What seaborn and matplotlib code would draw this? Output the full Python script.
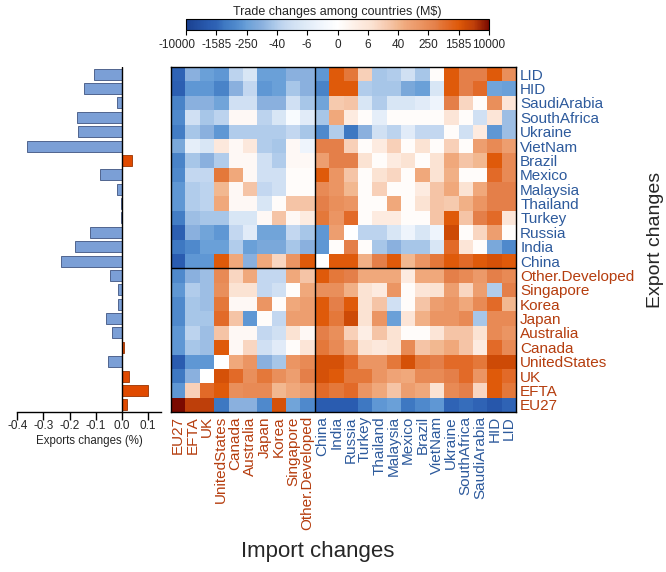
import numpy as np
import pandas as pd
import matplotlib
matplotlib.use("Agg")
import matplotlib.pyplot as plt
import matplotlib.transforms as mtransforms
import seaborn as sns
from matplotlib.colors import LinearSegmentedColormap

# ---------------- data ----------------
rows = ["LID", "HID", "SaudiArabia", "SouthAfrica", "Ukraine", "VietNam", "Brazil",
        "Mexico", "Malaysia", "Thailand", "Turkey", "Russia", "India", "China",
        "Other.Developed", "Singapore", "Korea", "Japan", "Australia", "Canada",
        "UnitedStates", "UK", "EFTA", "EU27"]
cols = rows[::-1]
developed = ["Other.Developed", "Singapore", "Korea", "Japan", "Australia", "Canada",
             "UnitedStates", "UK", "EFTA", "EU27"]

# export changes (%) per exporting country (rows)
export_change = [-0.106, -0.145, -0.018, -0.171, -0.169, -0.363, 0.040, -0.083, -0.017,
                 -0.002, -0.001, -0.122, -0.178, -0.231, -0.046, -0.015, -0.013, -0.059,
                 -0.036, 0.007, -0.054, 0.029, 0.099, 0.021]

# trade change, signed log10 of M$ (rows = exporter, cols = importer)
trade_log = [
    [-3.2, -2.0, -2.4, -2.5, -1.5, -1.0, -2.4, -2.4, -2.0, -2.0, -2.5, 3.2, 2.7, 1.2, -1.7, -1.6, -1.2, -1.7, 0.1, 3.2, 2.6, 2.6, 3.2, 2.3],
    [-3.3, -2.5, -2.5, -2.8, -2.0, -1.4, -2.5, -2.4, -1.7, -2.0, -2.8, 3.2, 3.2, -1.6, -1.7, -1.7, -2.2, -2.4, -1.0, 3.2, 2.6, 2.9, -2.3, -2.4],
    [-2.8, -2.0, -2.0, -2.3, -1.2, -1.2, -2.0, -2.0, -1.2, -1.7, -2.3, 1.3, 1.4, -1.0, -1.6, -1.0, -1.0, -0.8, -0.5, 2.6, 1.1, 0.1, 2.3, 0.8],
    [-2.7, -1.2, -1.7, -1.5, 0.2, 0.2, -1.5, -1.0, -0.2, -0.8, -1.7, 1.8, 0.6, 0.1, -0.7, 0.1, 0.1, 0.1, 0.1, 0.8, 0.1, -1.2, 0.8, -1.8],
    [-2.9, -1.7, -2.0, -2.5, -1.6, -1.6, -1.6, -1.6, -1.4, -1.7, -2.7, -1.6, -3.0, -2.0, -1.2, -1.5, -0.8, -1.4, -1.4, 0.1, -1.2, 0.6, -2.5, -1.8],
    [-2.2, -0.7, -1.0, 0.7, 0.2, 0.7, -1.6, -1.7, 0.2, -0.5, 2.6, 2.6, 1.2, 0.1, 0.6, 1.2, 0.1, 0.9, 0.1, 1.2, 0.1, 2.0, 2.4, 2.0],
    [-2.8, -1.7, -2.0, -1.6, 0.2, 0.2, -1.2, -1.6, 0.2, 0.2, 2.0, 2.6, 2.6, 0.9, 0.1, 0.6, 0.9, 0.1, 0.9, 1.8, 1.4, 1.6, 3.2, 2.4],
    [-2.7, -1.4, -1.4, 2.7, 1.8, 0.2, -1.2, -1.2, 0.1, 0.1, 3.2, 2.2, 1.4, 0.1, 0.9, 1.1, 0.1, 1.8, 0.9, 1.7, 0.1, 0.1, 2.9, 2.4],
    [-2.5, -1.6, -1.5, 1.6, 0.2, 1.4, -1.4, -1.2, 0.1, 0.1, 2.4, 2.2, 1.6, 0.1, 1.2, 0.1, 0.1, 0.6, 1.4, 1.8, 0.9, 1.8, 2.6, 2.6],
    [-2.5, -1.6, -1.5, 1.8, 0.2, 0.2, -1.0, 0.1, 1.4, 1.4, 2.6, 2.3, 2.2, 0.1, 0.1, 1.8, 0.1, 0.9, 1.4, 1.3, 1.7, 2.2, 2.6, 2.6],
    [-2.9, -1.8, -1.7, -1.7, -1.0, -1.0, 0.2, 1.4, 0.2, 0.6, 2.7, 2.2, 2.9, 0.1, 0.6, 0.6, 0.1, 0.1, 1.4, 3.2, 1.4, 2.6, 2.9, 0.8],
    [-3.3, -2.0, -2.3, -2.5, -1.4, -0.8, -2.3, -2.3, -1.4, -1.7, -2.5, 2.0, 0.0, -1.5, -1.5, -1.0, -0.5, -1.0, -0.5, 3.4, 0.1, 1.1, 2.0, 0.1],
    [-3.0, -2.7, -2.4, -2.4, -1.6, -2.4, -2.2, -2.2, -1.7, -2.0, -2.5, 0.1, 2.6, 0.1, -1.7, -2.0, -1.7, -1.7, -1.0, 2.9, 0.8, 0.1, -2.2, -2.7],
    [-3.4, -2.5, -2.5, 3.2, 1.8, -2.0, 1.8, 1.1, 2.2, 3.2, 0.0, 3.2, 3.2, 1.7, 2.6, 3.2, 1.6, 2.2, 2.7, 3.2, 2.9, 3.2, 3.3, 3.2],
    [-2.7, -2.0, -1.8, 2.4, 1.1, 1.8, -1.4, -1.4, 1.8, 1.4, 3.2, 2.7, 2.6, 1.8, 1.8, 1.8, 0.6, 1.8, 1.8, 2.6, 2.4, 2.1, 2.6, 2.4],
    [-2.5, -1.6, -1.8, 2.3, 0.9, 0.9, -1.4, -1.2, 0.1, 1.8, 2.3, 2.3, 1.7, 0.9, 0.6, 2.2, 0.1, 0.8, 0.9, 2.0, 1.1, 2.0, -1.6, 2.6],
    [-2.7, -1.7, -1.8, 2.7, 0.2, 0.2, 2.2, 0.1, 1.8, 2.0, 3.2, 2.6, 3.2, 0.9, 1.4, -1.2, 0.1, 1.4, 2.0, 2.2, 1.8, 2.4, 2.9, 1.6],
    [-2.7, -1.7, -1.7, 2.9, 1.4, -2.5, 0.1, -1.4, 2.0, 2.0, 3.2, 2.7, 3.4, 0.9, 2.2, -2.4, 0.8, 1.7, 2.2, 2.2, 2.4, -1.7, 2.4, 2.4],
    [-2.5, -1.5, -1.8, 1.4, 0.2, 0.2, -1.4, -1.2, 0.9, 0.2, 2.6, 2.3, 1.2, 0.5, 1.4, 0.9, 0.1, 0.1, 0.8, 1.4, 1.4, 0.9, 2.4, 2.2],
    [-2.5, -1.7, -1.8, 3.2, 0.2, 1.1, -1.2, -0.8, 0.1, 0.8, 2.7, 2.4, 1.8, 0.9, 0.7, 0.9, 2.4, 1.4, 1.6, 1.8, 1.4, 0.6, 2.9, 2.4],
    [-3.4, -2.5, -2.5, 0.0, 1.8, 2.2, -2.0, -1.7, 2.2, 2.4, 3.3, 3.3, 2.9, 2.2, 2.2, 2.7, 3.3, 2.7, 2.6, 2.9, 2.9, 2.7, 3.4, 3.4],
    [-3.0, -2.0, 0.0, 3.3, 2.9, 2.3, 2.7, 2.3, 2.0, 2.6, 3.3, 3.2, 2.7, 2.7, 2.2, 1.9, 1.8, 2.4, 2.4, 2.6, 2.9, 2.2, 3.2, 2.9],
    [-2.5, 1.2, 2.9, 3.2, 2.3, 2.4, 2.4, 1.6, 1.8, 2.0, 2.9, 2.7, 2.9, 2.2, 1.8, 1.4, 2.0, 1.8, 0.9, 2.4, 2.6, 1.1, 3.2, 2.7],
    [4.0, 3.6, 3.6, -3.0, -2.0, -2.0, -2.7, 3.3, -2.3, -2.7, -3.4, -3.4, -3.4, -3.0, -2.5, -2.4, -3.0, -2.7, -2.5, -3.2, -3.1, -3.2, -3.5, -3.2],
]

cbar_ticks = [-4.0, -3.2, -2.4, -1.6, -0.8, 0.0, 0.8, 1.6, 2.4, 3.2, 4.0]
cbar_labels = ["-10000", "-1585", "-250", "-40", "-6", "0", "6", "40", "250", "1585", "10000"]

bar_ticks = [-0.4, -0.3, -0.2, -0.1, 0.0, 0.1]
bar_tick_labels = ["-0.4", "-0.3", "-0.2", "-0.1", "0.0", "0.1"]

# ---------------- style ----------------
sns.set_theme(style="white")
plt.rcParams["font.family"] = ["Liberation Sans", "DejaVu Sans"]

anchors = [
    (-4.0, "#1a4090"), (-3.4, "#2a5cb0"), (-3.2, "#2f63b5"), (-3.0, "#3e78c2"),
    (-2.7, "#4f89cc"), (-2.5, "#5f97d4"), (-2.4, "#6aa0d8"), (-2.2, "#7aa8da"),
    (-2.0, "#8ab0de"), (-1.7, "#a7c6e8"), (-1.5, "#bcd3ee"), (-1.2, "#d0e0f3"),
    (-1.0, "#d8e6f5"), (-0.5, "#eef4fc"), (0.0, "#ffffff"), (0.6, "#fdebe0"),
    (0.9, "#fbe3d3"), (1.2, "#f8d0b8"), (1.4, "#f5c4a6"), (1.6, "#f2b890"),
    (1.8, "#f0a87c"), (2.2, "#eb9563"), (2.4, "#e88a55"), (2.6, "#e4804a"),
    (2.7, "#e4783a"), (2.9, "#e26a28"), (3.2, "#df5a0a"), (3.4, "#cd4a06"),
    (3.6, "#c0400a"), (4.0, "#7a0a00"),
]
cmap = LinearSegmentedColormap.from_list(
    "trade", [((t + 4) / 8, c) for t, c in anchors], N=512)

BLUE_TXT = "#2d5a9c"
RED_TXT = "#b53d0e"

W, H = 666, 572
fig = plt.figure(figsize=(W / 100, H / 100), dpi=100)
ax_h = fig.add_axes([171 / W, 1 - 412 / H, 345 / W, 345 / H])
cax = fig.add_axes([186 / W, 1 - 30 / H, 303 / W, 11 / H])
ax_b = fig.add_axes([17.3 / W, 1 - 412 / H, 143.6 / W, 345 / H])

df = pd.DataFrame(trade_log, index=rows, columns=cols)
sns.heatmap(df, ax=ax_h, cmap=cmap, vmin=-4, vmax=4, cbar_ax=cax,
            cbar_kws={"orientation": "horizontal", "ticks": cbar_ticks},
            xticklabels=True, yticklabels=True)

# heatmap frame and group separators
for sp in ax_h.spines.values():
    sp.set_visible(True)
    sp.set_color("black")
    sp.set_linewidth(1.0)
ax_h.axvline(10, color="black", lw=1.0)
ax_h.axhline(14, color="black", lw=1.0)

ax_h.yaxis.tick_right()
ax_h.tick_params(axis="both", length=0, pad=3)
ax_h.set_yticklabels(rows, rotation=0, fontsize=11)
ax_h.set_xticklabels(cols, rotation=90, fontsize=11)
for lab in ax_h.get_yticklabels():
    lab.set_color(RED_TXT if lab.get_text() in developed else BLUE_TXT)
for lab in ax_h.get_xticklabels():
    lab.set_color(RED_TXT if lab.get_text() in developed else BLUE_TXT)
ax_h.set_xlabel("")
ax_h.set_ylabel("")

# colorbar
cbar = ax_h.collections[0].colorbar
cbar.outline.set_edgecolor("black")
cbar.outline.set_linewidth(0.8)
cax.xaxis.set_ticks_position("bottom")
cax.set_xticks(cbar_ticks)
cax.set_xticklabels(cbar_labels, fontsize=8.5)
cax.tick_params(axis="x", length=3.5, width=0.8, color="black", direction="out", pad=3,
                bottom=True)
first = cax.get_xticklabels()[0]
first.set_transform(first.get_transform() +
                    mtransforms.ScaledTranslation(-9 / 100, 0, fig.dpi_scale_trans))
fig.text(337 / W, 1 - 12.5 / H, "Trade changes among countries (M$)",
         ha="center", va="center", fontsize=9)

# bar chart of export changes
bar_colors = ["#e04a00" if v > 0 else "#7b9fd6" for v in export_change]
edge_colors = ["#9a3300" if v > 0 else "#3f5480" for v in export_change]
sns.barplot(x=export_change, y=rows, hue=rows, palette=bar_colors, legend=False,
            orient="h", ax=ax_b, width=0.76, saturation=1)
for p, ec in zip(ax_b.patches, edge_colors):
    p.set_edgecolor(ec)
    p.set_linewidth(0.6)
ax_b.set_xlim(-0.4, 0.15)
ax_b.set_ylim(23.5, -0.5)
ax_b.axvline(0, color="black", lw=1.0)
for side in ["left", "top", "right"]:
    ax_b.spines[side].set_visible(False)
ax_b.spines["bottom"].set_visible(True)
ax_b.spines["bottom"].set_color("black")
ax_b.spines["bottom"].set_linewidth(1.0)
ax_b.set_yticks([])
ax_b.set_ylabel("")
ax_b.set_xticks(bar_ticks)
ax_b.set_xticklabels(bar_tick_labels, fontsize=8.5)
ax_b.tick_params(axis="x", length=6, width=1, color="black", direction="out", pad=0,
                 bottom=True)
ax_b.set_xlabel("Exports changes (%)", fontsize=8.3, labelpad=2)

fig.text(318 / W, 1 - 552 / H, "Import changes", ha="center", va="center", fontsize=16)
fig.text(655 / W, 1 - 240 / H, "Export changes", ha="center", va="center",
         rotation=90, fontsize=14)

fig.savefig("out.png", dpi=100)
